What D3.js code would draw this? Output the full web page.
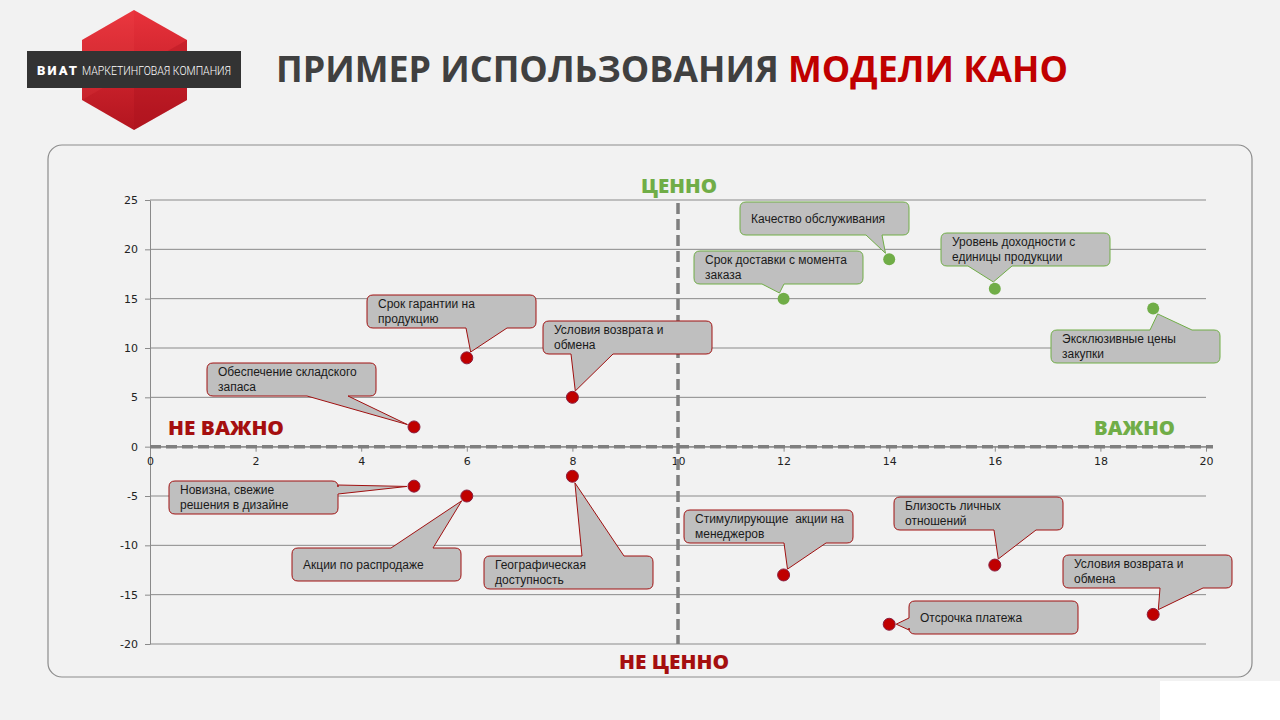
<!DOCTYPE html>
<html>
<head>
<meta charset="utf-8">
<script src="https://cdn.jsdelivr.net/npm/d3@7"></script>
<style>
  body { margin: 0; background: #f2f2f2; }
  svg { display: block; }
</style>
</head>
<body>
<div id="chart"></div>
<script>
// data
const xTicks = [0, 2, 4, 6, 8, 10, 12, 14, 16, 18, 20];
const yTicks = [-20, -15, -10, -5, 0, 5, 10, 15, 20, 25];

const labels = [
  'Обеспечение складского\nзапаса',
  'Срок гарантии на\nпродукцию',
  'Условия возврата и\nобмена',
  'Срок доставки с момента\nзаказа',
  'Качество обслуживания',
  'Уровень доходности с\nединицы продукции',
  'Эксклюзивные цены\nзакупки',
  'Новизна, свежие\nрешения в дизайне',
  'Акции по распродаже',
  'Географическая\nдоступность',
  'Стимулирующие  акции на\nменеджеров',
  'Близость личных\nотношений',
  'Отсрочка платежа',
  'Условия возврата и\nобмена'
];
const importance = [5, 6, 8, 12, 14, 16, 19, 5, 6, 8, 12, 16, 14, 19];
const value = [2, 9, 5, 15, 19, 16, 14, -4, -5, -3, -13, -12, -18, -17];
const group = ['red', 'red', 'red', 'green', 'green', 'green', 'green',
  'red', 'red', 'red', 'red', 'red', 'red', 'red'];

const quadrantLabels = ['ЦЕННО', 'НЕ ВАЖНО', 'ВАЖНО', 'НЕ ЦЕННО'];

// callout placement (pixels): box corner, side with pointer, pointer base
const callouts = [
  {x: 207, y: 363, side: 'bottom', b0: 307, b1: 348},
  {x: 367, y: 295, side: 'bottom', b0: 466, b1: 507},
  {x: 543, y: 321, side: 'bottom', b0: 571, b1: 613},
  {x: 694, y: 251, side: 'bottom', b0: 762, b1: 784},
  {x: 740, y: 202, side: 'bottom', b0: 866, b1: 882},
  {x: 941, y: 233, side: 'bottom', b0: 968, b1: 1012},
  {x: 1051, y: 330, side: 'top', b0: 1150, b1: 1192},
  {x: 169, y: 481, side: 'right', b0: 485, b1: 494},
  {x: 292, y: 548, side: 'top', b0: 391, b1: 433},
  {x: 484, y: 556, side: 'top', b0: 582, b1: 624},
  {x: 684, y: 510, side: 'bottom', b0: 784, b1: 826},
  {x: 894, y: 497, side: 'bottom', b0: 994, b1: 1036},
  {x: 909, y: 601, side: 'left', b0: 618, b1: 630},
  {x: 1063, y: 555, side: 'bottom', b0: 1160, b1: 1203}
];
const BOX_W = 169, BOX_H = 33, BOX_R = 6;

const colors = {
  red: {fill: '#c00000', stroke: '#8a2040', box: '#a01010'},
  green: {fill: '#70ad47', stroke: 'none', box: '#70ad47'}
};

const W = 1280, H = 720;
const svg = d3.select('#chart').append('svg')
  .attr('width', W)
  .attr('height', H);

svg.append('rect').attr('width', W).attr('height', H).attr('fill', '#f2f2f2');
svg.append('rect').attr('x', 1160).attr('y', 681).attr('width', 120).attr('height', 39).attr('fill', '#fff');

// logo
const defs = svg.append('defs');
const grad = defs.append('linearGradient').attr('id', 'hex').attr('x1', 0).attr('y1', 0).attr('x2', 0).attr('y2', 1);
grad.append('stop').attr('offset', 0).attr('stop-color', '#e8323b');
grad.append('stop').attr('offset', 1).attr('stop-color', '#b3151f');

const logo = svg.append('g');
logo.append('polygon')
  .attr('points', '134,10 187,40 187,100 134,130 82,100 82,40')
  .attr('fill', 'url(#hex)');
logo.append('polygon')
  .attr('points', '134,70 187,40 187,100 134,130')
  .attr('fill', '#a8121c')
  .attr('opacity', 0.35);
logo.append('polygon')
  .attr('points', '82,40 134,10 134,70 82,100')
  .attr('fill', '#ff5a5a')
  .attr('opacity', 0.12);
logo.append('rect')
  .attr('x', 27).attr('y', 51).attr('width', 214).attr('height', 37)
  .attr('fill', '#333333');
logo.append('text')
  .attr('x', 37).attr('y', 75)
  .attr('fill', '#fff')
  .attr('font-family', 'Roboto, Arial, sans-serif')
  .attr('font-size', 13)
  .attr('font-weight', 900)
  .attr('textLength', 40)
  .text('ВИАТ');
logo.append('text')
  .attr('x', 82).attr('y', 75)
  .attr('fill', '#fff')
  .attr('font-family', 'Roboto, Arial, sans-serif')
  .attr('font-size', 12)
  .attr('font-weight', 300)
  .attr('textLength', 149)
  .attr('lengthAdjust', 'spacingAndGlyphs')
  .text('МАРКЕТИНГОВАЯ КОМПАНИЯ');

// title
const title = svg.append('text')
  .attr('x', 276).attr('y', 82)
  .attr('font-family', '"Open Sans", sans-serif')
  .attr('font-weight', 700)
  .attr('font-size', 36)
  .attr('textLength', 792)
  .attr('lengthAdjust', 'spacingAndGlyphs');
title.append('tspan').attr('fill', '#404040').text('ПРИМЕР ИСПОЛЬЗОВАНИЯ ');
title.append('tspan').attr('fill', '#c00000').text('МОДЕЛИ КАНО');

// panel
svg.append('rect')
  .attr('x', 48).attr('y', 145).attr('width', 1204).attr('height', 532)
  .attr('rx', 14)
  .attr('fill', '#f2f2f2')
  .attr('stroke', '#8c8c8c')
  .attr('stroke-width', 1.2);

// scales
const xScale = d3.scaleLinear().domain([0, 20]).range([150, 1206]);
const yScale = d3.scaleLinear().domain([-20, 25]).range([644, 200]);

const g = svg.append('g');

// grid lines
g.selectAll('.grid')
  .data(yTicks)
  .enter().append('line')
  .attr('class', 'grid')
  .attr('x1', xScale(0)).attr('x2', xScale(20))
  .attr('y1', d => yScale(d)).attr('y2', d => yScale(d))
  .attr('stroke', '#8a8a8a')
  .attr('stroke-width', 1);

// y axis
const yAxis = g.append('g')
  .attr('transform', `translate(${xScale(0)},0)`)
  .call(d3.axisLeft(yScale).tickValues(yTicks).tickFormat(d => String(d))
    .tickSize(5).tickSizeOuter(0).tickPadding(7));
// x axis
const xAxis = g.append('g')
  .attr('transform', `translate(0,${yScale(0)})`)
  .call(d3.axisBottom(xScale).tickValues(xTicks).tickFormat(d => String(d))
    .tickSize(5).tickSizeOuter(0).tickPadding(6));

[yAxis, xAxis].forEach(ax => {
  ax.selectAll('path, line').attr('stroke', '#8a8a8a');
  ax.selectAll('text')
    .attr('fill', '#222')
    .attr('font-family', '"DejaVu Sans", Verdana, sans-serif')
    .attr('font-size', 11);
});

// dashed quadrant lines
g.append('line')
  .attr('x1', xScale(0)).attr('x2', xScale(20) + 7)
  .attr('y1', yScale(0)).attr('y2', yScale(0))
  .attr('stroke', '#7f7f7f')
  .attr('stroke-width', 3.5)
  .attr('stroke-dasharray', '11,5');
g.append('line')
  .attr('x1', xScale(10)).attr('x2', xScale(10))
  .attr('y1', yScale(25) + 3).attr('y2', yScale(-20))
  .attr('stroke', '#7f7f7f')
  .attr('stroke-width', 3.5)
  .attr('stroke-dasharray', '11,5');

// quadrant labels
const qPos = [
  {x: 641, y: 193, len: 76, color: '#70ad47'},
  {x: 168, y: 435, len: 116, color: '#a50f0f'},
  {x: 1094, y: 435, len: 81, color: '#70ad47'},
  {x: 619, y: 669, len: 110, color: '#a50f0f'}
];
g.selectAll('.quad')
  .data(quadrantLabels)
  .enter().append('text')
  .attr('class', 'quad')
  .attr('x', (d, i) => qPos[i].x)
  .attr('y', (d, i) => qPos[i].y)
  .attr('textLength', (d, i) => qPos[i].len)
  .attr('lengthAdjust', 'spacingAndGlyphs')
  .attr('fill', (d, i) => qPos[i].color)
  .attr('font-family', '"Open Sans", sans-serif')
  .attr('font-weight', 800)
  .attr('font-size', 19)
  .text(d => d);

// callouts
function calloutPath(c, tip) {
  const x = c.x, y = c.y, w = BOX_W, h = BOX_H, r = BOX_R;
  let p = `M${x + r},${y}`;
  if (c.side === 'top') p += `L${c.b0},${y}L${tip[0]},${tip[1]}L${c.b1},${y}`;
  p += `L${x + w - r},${y}Q${x + w},${y} ${x + w},${y + r}`;
  if (c.side === 'right') p += `L${x + w},${c.b0}L${tip[0]},${tip[1]}L${x + w},${c.b1}`;
  p += `L${x + w},${y + h - r}Q${x + w},${y + h} ${x + w - r},${y + h}`;
  if (c.side === 'bottom') p += `L${c.b1},${y + h}L${tip[0]},${tip[1]}L${c.b0},${y + h}`;
  p += `L${x + r},${y + h}Q${x},${y + h} ${x},${y + h - r}`;
  if (c.side === 'left') p += `L${x},${c.b1}L${tip[0]},${tip[1]}L${x},${c.b0}`;
  p += `L${x},${y + r}Q${x},${y} ${x + r},${y}Z`;
  return p;
}

function baseMid(c) {
  if (c.side === 'top') return [(c.b0 + c.b1) / 2, c.y];
  if (c.side === 'bottom') return [(c.b0 + c.b1) / 2, c.y + BOX_H];
  if (c.side === 'left') return [c.x, (c.b0 + c.b1) / 2];
  return [c.x + BOX_W, (c.b0 + c.b1) / 2];
}

const points = labels.map((label, i) => ({
  label: label,
  x: importance[i],
  y: value[i],
  group: group[i],
  box: callouts[i]
}));

const callG = g.selectAll('.callout')
  .data(points)
  .enter().append('g')
  .attr('class', 'callout');

callG.append('path')
  .attr('d', d => {
    const px = xScale(d.x), py = yScale(d.y);
    const m = baseMid(d.box);
    const dx = m[0] - px, dy = m[1] - py;
    const len = Math.sqrt(dx * dx + dy * dy);
    const tip = [px + dx / len * 7, py + dy / len * 7];
    return calloutPath(d.box, tip);
  })
  .attr('fill', '#bfbfbf')
  .attr('stroke', d => colors[d.group].box)
  .attr('stroke-width', 1);

callG.each(function(d) {
  const lines = d.label.split('\n');
  const t = d3.select(this).append('text')
    .attr('font-family', '"Liberation Sans", Arial, sans-serif')
    .attr('font-size', 12)
    .attr('fill', '#1a1a1a')
    .attr('xml:space', 'preserve');
  lines.forEach((line, k) => {
    const yy = lines.length === 1 ? d.box.y + BOX_H / 2 + 4.5 : d.box.y + 13 + k * 14.5;
    t.append('tspan')
      .attr('x', d.box.x + 11)
      .attr('y', yy)
      .text(line);
  });
});

// dots
g.selectAll('.dot')
  .data(points)
  .enter().append('circle')
  .attr('class', 'dot')
  .attr('cx', d => xScale(d.x))
  .attr('cy', d => yScale(d.y))
  .attr('r', 6)
  .attr('fill', d => colors[d.group].fill)
  .attr('stroke', d => colors[d.group].stroke)
  .attr('stroke-width', 1);
</script>
</body>
</html>
